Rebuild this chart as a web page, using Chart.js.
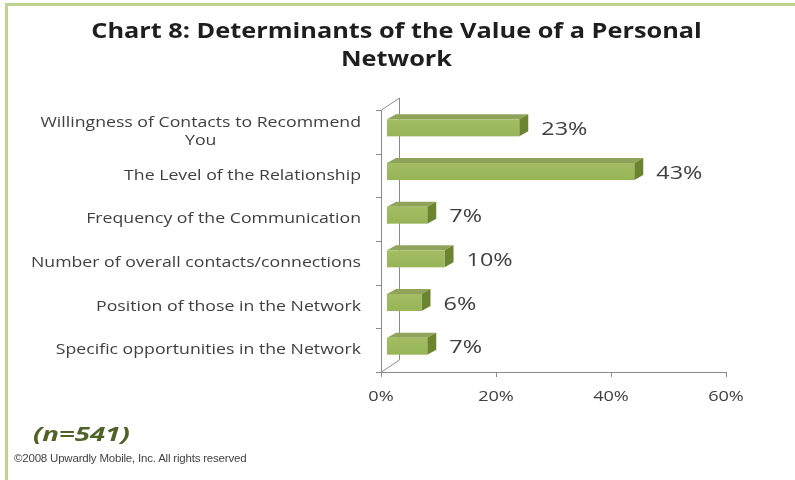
<!DOCTYPE html>
<html>
<head>
<meta charset="utf-8">
<script src="https://cdn.jsdelivr.net/npm/chart.js@4.4.1/dist/chart.umd.min.js"></script>
<style>
  body { margin: 0; background: #fff; }
  #wrap { position: relative; width: 795px; height: 480px; overflow: hidden; background: #fff; }
  #frame { position: absolute; left: 5px; top: 3px; width: 820px; height: 500px;
           border-left: 3px solid #bfd28f; border-top: 3px solid #bfd28f; }
  canvas { position: absolute; left: 0; top: 0; }
  .title { position: absolute; left: 0; top: 15px; width: 795px; text-align: center;
           font: bold 22px 'Open Sans'; color: #1e1e1e; line-height: 28px;
           transform: scaleX(1.15); transform-origin: 404px 0; }
  .n { position: absolute; left: 33px; top: 420px; font: italic bold 20px 'Open Sans';
       color: #4f6228; transform: scaleX(1.38); transform-origin: 0 0; }
  .copy { position: absolute; left: 14px; top: 452px; font: 11.5px 'Liberation Sans Narrow', 'Liberation Sans';
          color: #444; letter-spacing: -0.2px; }
</style>
</head>
<body>
<div id="wrap">
  <div id="frame"></div>
  <canvas id="myBarChart" width="795" height="480"></canvas>
  <div class="title">Chart 8: Determinants of the Value of a Personal<br>Network</div>
  <div class="n">(n=541)</div>
  <div class="copy">©2008 Upwardly Mobile, Inc. All rights reserved</div>
</div>
<script>

const categories = [
  ['Willingness of Contacts to Recommend', 'You'],
  ['The Level of the Relationship'],
  ['Frequency of the Communication'],
  ['Number of overall contacts/connections'],
  ['Position of those in the Network'],
  ['Specific opportunities in the Network']
];
const values = [23, 43, 7, 10, 6, 7];
const valueTicks = [0, 20, 40, 60];


const SX = 1.25;
const textColor = '#404040';

function stretchText(ctx, text, x, y, align, sx) {
  ctx.save();
  ctx.translate(x, y);
  ctx.scale(sx || SX, 1);
  ctx.textAlign = align;
  ctx.fillText(text, 0, 0);
  ctx.restore();
}

const bar3d = {
  id: 'bar3d',
  beforeDatasetsDraw(chart) {
    const ctx = chart.ctx;
    const area = chart.chartArea;
    const x = chart.scales.x;
    const y = chart.scales.y;
    const dx = 18, dy = -12;

    ctx.save();
    ctx.strokeStyle = '#8a8a8a';
    ctx.lineWidth = 1;

    // side wall
    ctx.beginPath();
    ctx.moveTo(area.left + 0.5, area.bottom);
    ctx.lineTo(area.left + 0.5, area.top);
    ctx.lineTo(area.left + dx + 0.5, area.top + dy);
    ctx.lineTo(area.left + dx + 0.5, area.bottom + dy);
    ctx.lineTo(area.left + 0.5, area.bottom);
    ctx.stroke();

    // category tick marks
    ctx.beginPath();
    for (let i = 0; i <= categories.length; i++) {
      const ty = Math.round(y.top + (y.bottom - y.top) * i / categories.length) + 0.5;
      ctx.moveTo(area.left - 5, ty);
      ctx.lineTo(area.left, ty);
    }
    ctx.stroke();

    // value axis
    ctx.beginPath();
    ctx.moveTo(area.left, area.bottom + 0.5);
    ctx.lineTo(area.right, area.bottom + 0.5);
    valueTicks.forEach(v => {
      const tx = Math.round(x.getPixelForValue(v)) + 0.5;
      ctx.moveTo(tx, area.bottom);
      ctx.lineTo(tx, area.bottom + 5);
    });
    ctx.stroke();

    // value tick labels
    ctx.fillStyle = textColor;
    ctx.font = '14.5px "Open Sans"';
    ctx.textBaseline = 'middle';
    valueTicks.forEach(v => {
      stretchText(ctx, v + '%', x.getPixelForValue(v), area.bottom + 25, 'center');
    });

    // category labels
    ctx.font = '14.5px "Open Sans"';
    categories.forEach((lines, i) => {
      const cy = y.getPixelForValue(i);
      const widths = lines.map(l => ctx.measureText(l).width * 1.22);
      const maxW = Math.max(...widths);
      const cx = 361 - maxW / 2;
      const lh = 18;
      lines.forEach((l, j) => {
        const ly = cy + (j - (lines.length - 1) / 2) * lh;
        stretchText(ctx, l, cx, ly, 'center', 1.22);
      });
    });
    ctx.restore();
  },
  afterDatasetsDraw(chart) {
    const ctx = chart.ctx;
    const meta = chart.getDatasetMeta(0);
    const x = chart.scales.x;
    const ox = 6, oy = -4;
    const ddx = 9, ddy = -5;

    ctx.save();
    meta.data.forEach((el, i) => {
      const h = el.height;
      const x0 = el.base + ox;
      const x1 = el.x + ox;
      const y0 = el.y - h / 2 + oy;
      const y1 = el.y + h / 2 + oy;

      // top face
      ctx.fillStyle = '#8fa45a';
      ctx.beginPath();
      ctx.moveTo(x0, y0);
      ctx.lineTo(x0 + ddx, y0 + ddy);
      ctx.lineTo(x1 + ddx, y0 + ddy);
      ctx.lineTo(x1, y0);
      ctx.closePath();
      ctx.fill();

      // side face
      ctx.fillStyle = '#6a8430';
      ctx.beginPath();
      ctx.moveTo(x1, y0);
      ctx.lineTo(x1 + ddx, y0 + ddy);
      ctx.lineTo(x1 + ddx, y1 + ddy);
      ctx.lineTo(x1, y1);
      ctx.closePath();
      ctx.fill();

      // front face
      const g = ctx.createLinearGradient(0, y0, 0, y1);
      g.addColorStop(0, '#a2bd62');
      g.addColorStop(1, '#98b459');
      ctx.fillStyle = g;
      ctx.fillRect(x0, y0, x1 - x0, y1 - y0);

      // value label
      ctx.fillStyle = textColor;
      ctx.font = '18px "Open Sans"';
      ctx.textBaseline = 'middle';
      stretchText(ctx, values[i] + '%', x.getPixelForValue(values[i]) + 28, el.y - 2, 'left', 1.3);
    });
    ctx.restore();
  }
};

function renderBarChart() {
  const ctx = document.getElementById('myBarChart').getContext('2d');
  new Chart(ctx, {
    type: 'bar',
    data: {
      labels: categories,
      datasets: [{
        data: values,
        backgroundColor: 'rgba(0,0,0,0)',
        barPercentage: 0.39,
        categoryPercentage: 1
      }]
    },
    options: {
      indexAxis: 'y',
      responsive: false,
      animation: false,
      layout: { padding: { left: 381, right: 69, top: 110, bottom: 108 } },
      plugins: { legend: { display: false }, tooltip: { enabled: false } },
      scales: {
        x: { display: false, min: 0, max: 60 },
        y: { display: false }
      }
    },
    plugins: [bar3d]
  });
}

renderBarChart();
</script>
</body>
</html>
